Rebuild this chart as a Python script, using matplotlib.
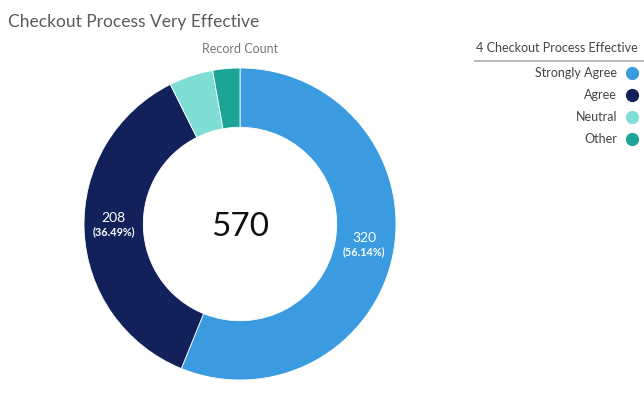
import matplotlib
matplotlib.use("Agg")
import matplotlib.pyplot as plt
from matplotlib.lines import Line2D
import math

categories = ["Strongly Agree", "Agree", "Neutral", "Other"]
counts = [320, 208, 26, 16]
colors = ["#3A9BE0", "#12215A", "#7EDED6", "#1CA497"]

plt.rcParams['font.family'] = ['Lato', 'DejaVu Sans']

W, H = 644, 393
fig = plt.figure(figsize=(W/100, H/100), dpi=100)

cx, cy, r = 240, 224, 156
ax = fig.add_axes([(cx - r)/W, (H - cy - r)/H, 2*r/W, 2*r/H])
width = 0.38
wedges, _ = ax.pie(counts, colors=colors, startangle=90, counterclock=False,
                   radius=1, wedgeprops=dict(width=width, edgecolor='white', linewidth=0.6))
ax.set_xlim(-1, 1); ax.set_ylim(-1, 1)
ax.set_aspect('equal'); ax.axis('off')

total = sum(counts)
ang = 90.0
for c, v in zip(categories, counts):
    span = v / total * 360
    mid = ang - span / 2
    ang -= span
    if v / total < 0.1:
        continue
    rr = 1 - width / 2
    x = rr * math.cos(math.radians(mid)); y = rr * math.sin(math.radians(mid))
    ax.text(x, y + 0.03, f"{v}", ha='center', va='bottom', color='white', fontsize=10)
    ax.text(x, y + 0.015, f"({v/total*100:.2f}%)", ha='center', va='top', color='white',
            fontsize=7.8, fontweight='bold')

ax.text(0, -0.02, f"{total}", ha='center', va='center', fontsize=24, color='#111111')

fig.text(8/W, 1 - 22/H, "Checkout Process Very Effective", ha='left', va='center',
         fontsize=12.5, color='#5a5a5a')
fig.text(240/W, 1 - 49/H, "Record Count", ha='center', va='center', fontsize=9, color='#777777')

fig.text(638/W, 1 - 48/H, "4 Checkout Process Effective", ha='right', va='center',
         fontsize=9, color='#444444')
fig.add_artist(Line2D([475/W, 644/W], [1 - 61/H, 1 - 61/H], color='#BBBBBB', lw=1.5))
for i, (c, col) in enumerate(zip(categories, colors)):
    y = 1 - (73 + 22 * i)/H
    fig.text(617/W, y, c, ha='right', va='center', fontsize=9, color='#444444')
    fig.add_artist(Line2D([632/W], [y], marker='o', markersize=8.5, color=col, lw=0))

fig.savefig("out.png", dpi=100)
